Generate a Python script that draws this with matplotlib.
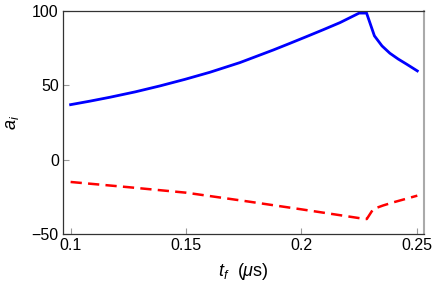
import matplotlib
matplotlib.use("Agg")
import matplotlib.pyplot as plt

# Data
t_blue = [0.1, 0.1085, 0.1171, 0.128, 0.1387, 0.1495, 0.1604, 0.1734, 0.1879, 0.195,
          0.2023, 0.2095, 0.2168, 0.2251, 0.2283, 0.2317, 0.2350, 0.2384, 0.2420,
          0.2457, 0.2503]
a_blue = [37.0, 39.4, 42.0, 45.6, 49.6, 54.0, 58.8, 65.3, 73.8, 78.2,
          82.8, 87.4, 92.2, 98.6, 98.6, 83.3, 76.5, 71.6, 67.7,
          64.2, 59.7]

t_red = [0.1, 0.125, 0.15, 0.175, 0.2, 0.2276, 0.2284, 0.2312, 0.2355, 0.2399, 0.245, 0.2503]
a_red = [-15.0, -18.5, -22.2, -27.7, -33.4, -39.9, -39.9, -33.2, -30.8, -28.7, -26.5, -24.2]

x_ticks = [0.1, 0.15, 0.2, 0.25]
x_tick_labels = ["0.1", "0.15", "0.2", "0.25"]
y_ticks = [-50, 0, 50, 100]
y_tick_labels = ["\u221250", "0", "50", "100"]

plt.rcParams['font.family'] = ['Liberation Sans', 'DejaVu Sans']
plt.rcParams['mathtext.fontset'] = 'custom'
plt.rcParams['mathtext.it'] = 'Liberation Sans:italic'
plt.rcParams['mathtext.rm'] = 'Liberation Sans'

fig = plt.figure(figsize=(4.36, 2.90), dpi=100)
ax = fig.add_axes([63/436, 1 - 234/290, (424 - 63)/436, (234 - 11)/290])

ax.plot(t_blue, a_blue, color='#0000ff', lw=2.0, solid_joinstyle='miter')
ax.plot(t_red, a_red, color='#ff0000', lw=1.8, linestyle=(0, (4.5, 2.5)))

ax.set_xlim(0.0967, 0.2532)
ax.set_ylim(-50, 100)
ax.set_xticks(x_ticks)
ax.set_xticklabels(x_tick_labels)
ax.set_yticks(y_ticks)
ax.set_yticklabels(y_tick_labels)
ax.tick_params(direction='in', length=4, width=0.8, color='#999999',
               labelsize=11.5, labelcolor='black', pad=3)

for side in ['left', 'bottom', 'top']:
    ax.spines[side].set_color('#333333')
    ax.spines[side].set_linewidth(0.9)
ax.spines['right'].set_color('#aaaaaa')
ax.spines['right'].set_linewidth(1.5)

ax.set_xlabel(r"$t_f$  ($\mu$s)", fontsize=13, labelpad=6)
ax.set_ylabel(r"$a_i$", fontsize=13, labelpad=8)

fig.savefig("out.png", dpi=100)
